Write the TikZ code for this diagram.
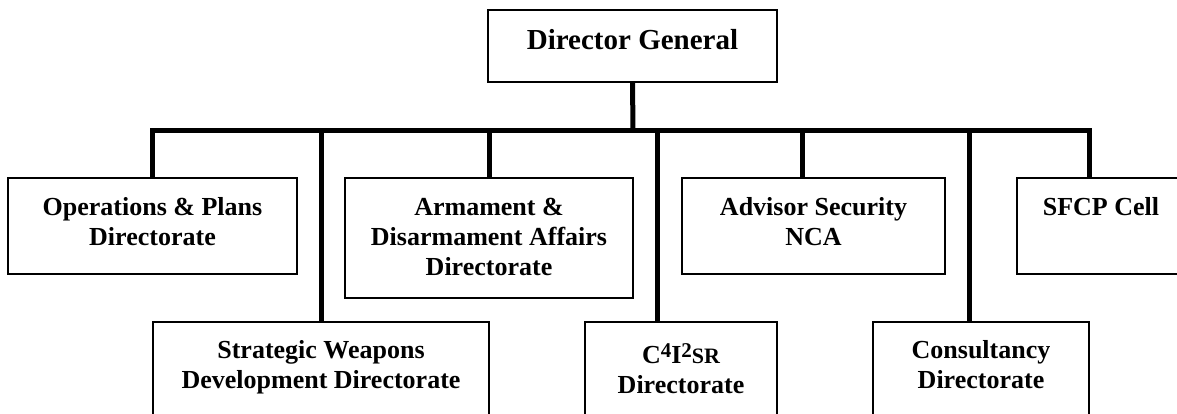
\documentclass[tikz,border=0pt]{standalone}
\usepackage{fontspec}
\setmainfont{Liberation Serif}
\newcommand\mybox[4]{\parbox[t][#2pt][t]{#1pt}{\centering\fontsize{26}{30}\selectfont\bfseries\vspace*{#3pt}#4}}
\newcommand\raisedigit[1]{\raisebox{6pt}{\fontsize{21}{24}\selectfont #1}}
\begin{document}
\begin{tikzpicture}[x=1pt,y=-1pt,
  box/.style={draw,line width=1.5pt,inner sep=0pt,outer sep=0pt,anchor=north west},
  conn/.style={line width=5pt,line join=miter}]
\useasboundingbox (0,0) rectangle (1177,413);
\clip (0,0) rectangle (1177,413);
\coordinate (bus) at (633,130);
% top
\node[box] (dg) at (488,10) {\parbox[t][72pt][t]{289pt}{\centering\fontsize{29}{33}\selectfont\bfseries\vspace*{15.9pt}\strut Director General}};
% upper row
\node[box] (ops) at (8,178) {\mybox{289}{96}{16.5}{\strut Operations \& Plans\\\strut Directorate}};
\node[box] (arm) at (345,178) {\mybox{288}{120}{16.5}{\strut Armament \&\\\strut Disarmament Affairs\\\strut Directorate}};
\node[box] (adv) at (682,178) {\mybox{263}{96}{16.5}{\strut Advisor Security\\\strut NCA}};
\node[box] (sfcp) at (1017,178) {\mybox{168}{96}{16}{\strut SFCP Cell}};
% lower row
\node[box] (sw) at (153,322) {\mybox{336}{120}{15}{\strut Strategic Weapons\\\strut Development Directorate}};
\node[box] (c4) at (585,322) {\mybox{192}{120}{20}{\strut C\raisedigit{4}I\raisedigit{2}{\fontsize{22}{24}\selectfont SR}\\\strut Directorate}};
\node[box] (con) at (873,322) {\mybox{216}{120}{15}{\strut Consultancy\\\strut Directorate}};
% connectors
\coordinate (c4t) at ([xshift=-24pt]c4.north);
\coordinate (advt) at ([xshift=-11.5pt]adv.north);
\coordinate (cont) at ([xshift=-12pt]con.north);
\coordinate (sfcpt) at ([xshift=-12pt]sfcp.north);
\draw[conn] (dg.south) -- (bus);
\draw[conn] (ops.north) |- (bus) -| (sfcpt);
\draw[conn] (sw.north) -- (sw.north |- bus);
\draw[conn] (arm.north) -- (arm.north |- bus);
\draw[conn] (c4t) -- (c4t |- bus);
\draw[conn] (advt) -- (advt |- bus);
\draw[conn] (cont) -- (cont |- bus);
\end{tikzpicture}
\end{document}
